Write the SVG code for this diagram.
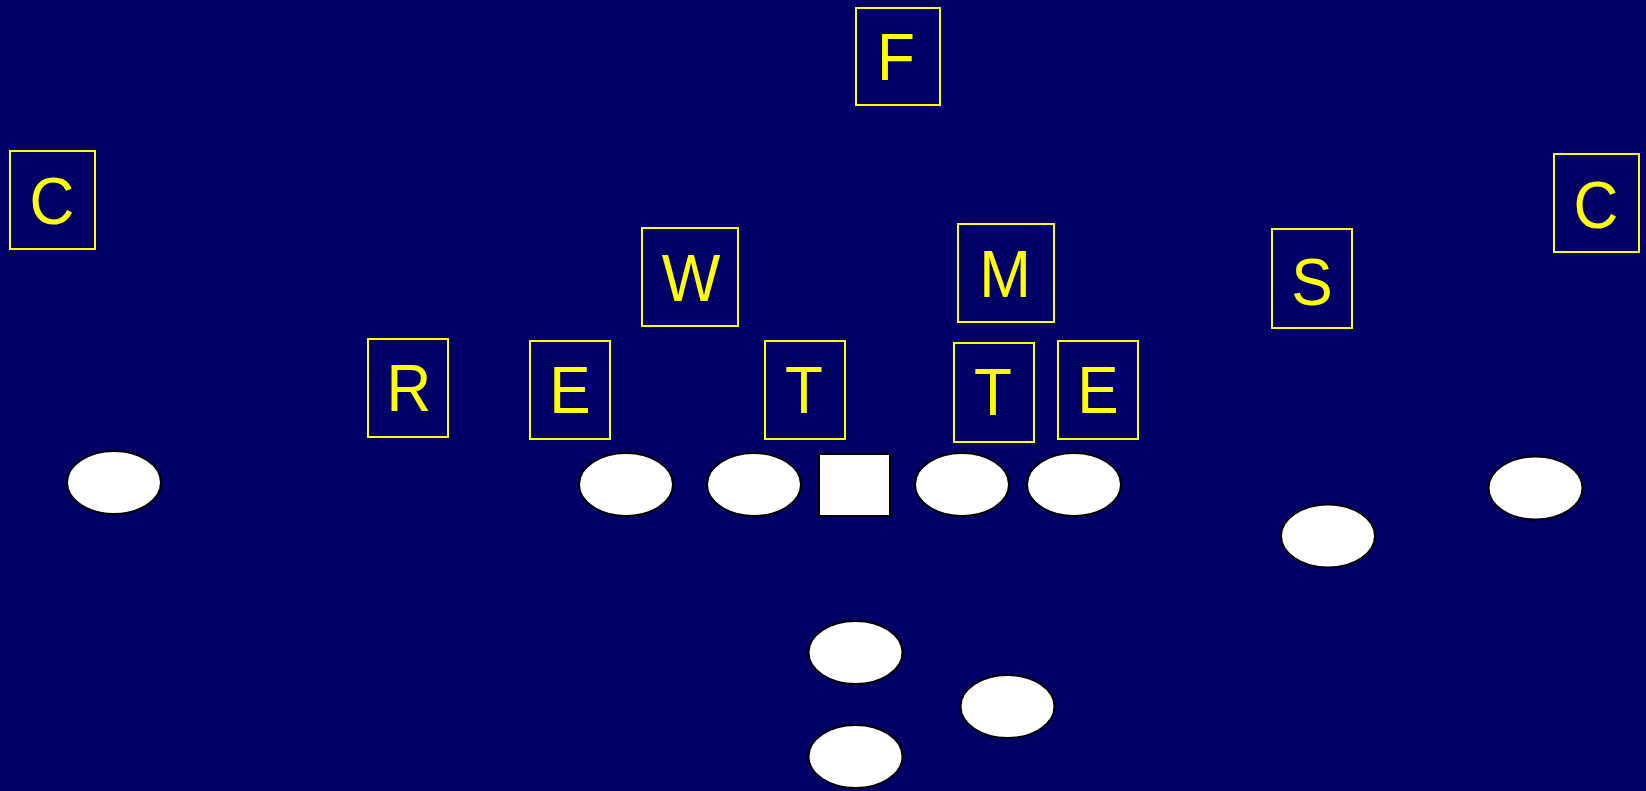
<svg xmlns="http://www.w3.org/2000/svg" width="1646" height="791" viewBox="0 0 1646 791">
<style>
.box{fill:none;stroke:#FFFF00;stroke-width:2}
.lbl{fill:#FFFF00;font-family:"Liberation Sans",Arial,sans-serif;font-size:66px;text-anchor:middle}
.pl{fill:#FFFFFF;stroke:#000000;stroke-width:2}
</style>
<rect x="0" y="0" width="1646" height="791" fill="#000066"/>
<g id="def-F"><rect class="box" x="856" y="8" width="84" height="97"/><text class="lbl" transform="translate(896 80) scale(0.94 1)">F</text></g>
<g id="def-C-left"><rect class="box" x="10" y="151" width="85" height="98"/><text class="lbl" transform="translate(52 224) scale(0.94 1)">C</text></g>
<g id="def-C-right"><rect class="box" x="1554" y="154" width="85" height="98"/><text class="lbl" transform="translate(1596 228) scale(0.94 1)">C</text></g>
<g id="def-W"><rect class="box" x="642" y="228" width="96" height="98"/><text class="lbl" transform="translate(691 301) scale(0.94 1)">W</text></g>
<g id="def-M"><rect class="box" x="958" y="224" width="96" height="98"/><text class="lbl" transform="translate(1005 297) scale(0.94 1)">M</text></g>
<g id="def-S"><rect class="box" x="1272" y="229" width="80" height="99"/><text class="lbl" transform="translate(1312 305) scale(0.94 1)">S</text></g>
<g id="def-R"><rect class="box" x="368" y="339" width="80" height="98"/><text class="lbl" transform="translate(409 411) scale(0.94 1)">R</text></g>
<g id="def-E-left"><rect class="box" x="530" y="341" width="80" height="98"/><text class="lbl" transform="translate(570 413) scale(0.94 1)">E</text></g>
<g id="def-T-left"><rect class="box" x="765" y="341" width="80" height="98"/><text class="lbl" transform="translate(804 413) scale(0.94 1)">T</text></g>
<g id="def-T-right"><rect class="box" x="954" y="343" width="80" height="99"/><text class="lbl" transform="translate(993 415) scale(0.94 1)">T</text></g>
<g id="def-E-right"><rect class="box" x="1058" y="341" width="80" height="98"/><text class="lbl" transform="translate(1098 413) scale(0.94 1)">E</text></g>
<g id="off-wr-left"><ellipse class="pl" cx="114" cy="482.5" rx="47" ry="31.5"/></g>
<g id="off-lt"><ellipse class="pl" cx="626" cy="484.5" rx="47" ry="31.5"/></g>
<g id="off-lg"><ellipse class="pl" cx="754" cy="484.5" rx="47" ry="31.5"/></g>
<g id="off-center"><rect class="pl" x="819" y="454" width="71" height="62"/></g>
<g id="off-rg"><ellipse class="pl" cx="962" cy="484.5" rx="47" ry="31.5"/></g>
<g id="off-rt"><ellipse class="pl" cx="1074" cy="484.5" rx="47" ry="31.5"/></g>
<g id="off-te"><ellipse class="pl" cx="1328" cy="536" rx="47" ry="31.5"/></g>
<g id="off-wr-right"><ellipse class="pl" cx="1535.5" cy="488" rx="47" ry="31.5"/></g>
<g id="off-qb"><ellipse class="pl" cx="855.5" cy="652.5" rx="47" ry="31.5"/></g>
<g id="off-hb"><ellipse class="pl" cx="1007.5" cy="706.5" rx="47" ry="31.5"/></g>
<g id="off-fb"><ellipse class="pl" cx="855.5" cy="756.5" rx="47" ry="31.5"/></g>
<g id="connectors"></g>
</svg>
